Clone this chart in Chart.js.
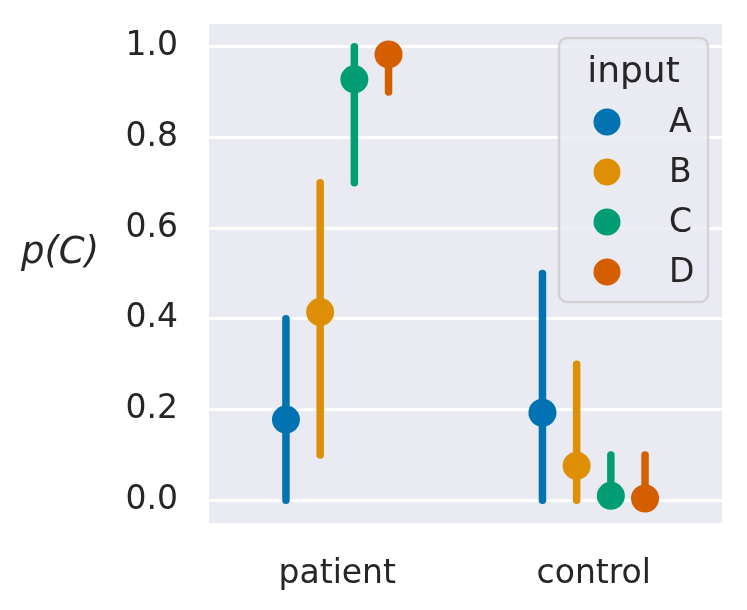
<!DOCTYPE html>
<html>
<head>
<meta charset="utf-8">
<script src="https://cdn.jsdelivr.net/npm/chart.js@4"></script>
<style>
  body { margin: 0; background: #fff; }
</style>
</head>
<body>
<canvas id="chart" width="747" height="610"></canvas>
<script>
const categories = ['patient', 'control']
const hues = ['A', 'B', 'C', 'D']
const colors = ['#0173b2', '#de8f05', '#029e73', '#d55e00']
const dodge = [-0.2, -0.0667, 0.0667, 0.2]

// mean and CI per hue, one entry per category
const means = {
    A: [0.178, 0.193],
    B: [0.415, 0.076],
    C: [0.928, 0.01],
    D: [0.983, 0.004],
}
const ciLow = {
    A: [0.0, 0.0],
    B: [0.10, 0.0],
    C: [0.70, 0.0],
    D: [0.90, 0.0],
}
const ciHigh = {
    A: [0.40, 0.50],
    B: [0.70, 0.30],
    C: [1.0, 0.10],
    D: [1.0, 0.10],
}
const yTicks = [0, 0.2, 0.4, 0.6, 0.8, 1.0]

const textColor = '#262626'
const font = "'DejaVu Sans', sans-serif"

const datasets = []
hues.forEach((h, i) => {
    categories.forEach((c, j) => {
        datasets.push({
            type: 'line',
            data: [
                { x: j + dodge[i], y: ciLow[h][j] },
                { x: j + dodge[i], y: ciHigh[h][j] },
            ],
            borderColor: colors[i],
            borderWidth: 7.5,
            borderCapStyle: 'round',
            pointRadius: 0,
            order: 20 - i * 2,
        })
    })
    datasets.push({
        type: 'scatter',
        label: h,
        data: categories.map((c, j) => ({ x: j + dodge[i], y: means[h][j] })),
        backgroundColor: colors[i],
        borderWidth: 0,
        pointRadius: 14,
        order: 19 - i * 2,
    })
})

const background = {
    id: 'background',
    beforeDraw(chart) {
        const { ctx, chartArea: a } = chart
        ctx.save()
        ctx.fillStyle = '#ffffff'
        ctx.fillRect(0, 0, chart.width, chart.height)
        ctx.fillStyle = '#eaeaf2'
        ctx.fillRect(a.left, a.top, a.right - a.left, a.bottom - a.top)
        ctx.restore()
    }
}

const extras = {
    id: 'extras',
    afterDraw(chart) {
        const { ctx, chartArea: a } = chart
        ctx.save()
        // y label, horizontal
        ctx.fillStyle = textColor
        ctx.font = "italic 37px 'DejaVu Sans', sans-serif"
        ctx.textAlign = 'center'
        ctx.textBaseline = 'alphabetic'
        ctx.fillText('p(C)', 60, 263)

        // legend inside the axes
        const w = 149, h = 264
        const x0 = a.right - 14 - w, y0 = a.top + 14
        ctx.beginPath()
        ctx.roundRect(x0, y0, w, h, 8)
        ctx.fillStyle = 'rgba(234,234,242,0.8)'
        ctx.fill()
        ctx.lineWidth = 2.5
        ctx.strokeStyle = 'rgba(204,204,204,0.8)'
        ctx.stroke()

        ctx.fillStyle = textColor
        ctx.font = "36px " + font
        ctx.textAlign = 'center'
        ctx.fillText('input', x0 + w / 2, y0 + 44)

        hues.forEach((lab, i) => {
            const cy = y0 + 84 + i * 50
            ctx.beginPath()
            ctx.arc(x0 + 48, cy, 13.5, 0, Math.PI * 2)
            ctx.fillStyle = colors[i]
            ctx.fill()
            ctx.fillStyle = textColor
            ctx.font = "33px " + font
            ctx.textAlign = 'left'
            ctx.textBaseline = 'middle'
            ctx.fillText(lab, x0 + 110, cy + 1)
        })
        ctx.restore()
    }
}

new Chart(document.getElementById('chart').getContext('2d'), {
    data: { datasets },
    options: {
        responsive: false,
        animation: false,
        devicePixelRatio: 1,
        layout: { padding: { top: 24, right: 25, left: 0, bottom: 0 } },
        plugins: {
            legend: { display: false },
            tooltip: { enabled: false },
        },
        scales: {
            x: {
                type: 'linear',
                min: -0.5,
                max: 1.5,
                afterBuildTicks: s => { s.ticks = categories.map((c, j) => ({ value: j })) },
                afterFit: s => { s.height = 87 },
                ticks: {
                    callback: v => categories[v],
                    color: textColor,
                    font: { size: 33, family: font },
                    padding: 32,
                    maxRotation: 0,
                },
                grid: { display: false, drawTicks: false },
                border: { display: false },
            },
            y: {
                type: 'linear',
                min: -0.05,
                max: 1.05,
                afterBuildTicks: s => { s.ticks = yTicks.map(v => ({ value: v })) },
                afterFit: s => { s.width = 209; s.paddingTop = 0; s.paddingBottom = 0 },
                ticks: {
                    callback: v => v.toFixed(1),
                    color: textColor,
                    font: { size: 33, family: font },
                    padding: 31,
                },
                grid: { color: '#ffffff', lineWidth: 3, drawTicks: false },
                border: { display: false },
            }
        }
    },
    plugins: [background, extras]
})
</script>
</body>
</html>
